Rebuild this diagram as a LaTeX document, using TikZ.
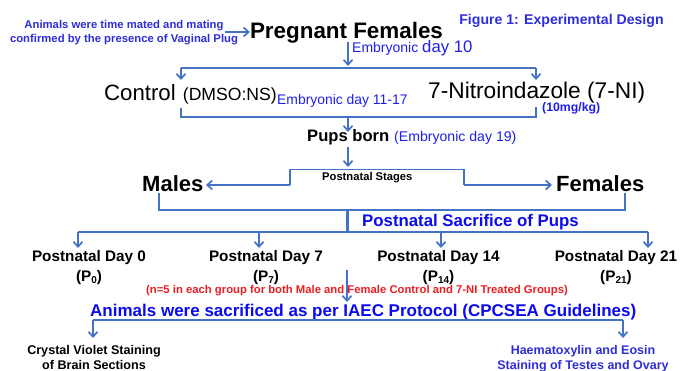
\documentclass[tikz,border=0pt]{standalone}
\usepackage{fontspec}
\setmainfont{Liberation Sans}
\usetikzlibrary{arrows.meta}
\definecolor{lineblue}{RGB}{68,114,196}
\definecolor{noteblue}{RGB}{45,45,220}
\definecolor{txtblue}{RGB}{30,30,235}
\definecolor{strongblue}{RGB}{10,10,240}
\definecolor{notered}{RGB}{235,30,35}
\newcommand\fsz[1]{\fontsize{#1}{#1}\selectfont}
\newcommand\psub[1]{\raisebox{-2.2pt}{\fsz{10}#1}}
\begin{document}
\begin{tikzpicture}[x=1pt,y=-1pt,
  conn/.style={draw=lineblue,line width=1.7pt},
  arr/.style={conn,-{Straight Barb[length=5pt,width=9pt]}},
  lbl/.style={inner sep=0pt,anchor=base},
  lblw/.style={inner sep=0pt,anchor=base west}]
\useasboundingbox (0,0) rectangle (691,371);

% ---- texts ----
\node[lbl,font=\bfseries\fsz{11.3},text=noteblue] (note1) at (124,28.3) {Animals were time mated and mating};
\node[lbl,font=\bfseries\fsz{11.3},text=noteblue] (note2) at (124,42.3) {confirmed by the presence of Vaginal Plug};
\node[lbl,font=\bfseries\fsz{22.4}] (preg) at (346.5,38.3) {Pregnant Females};
\node[lbl,font=\bfseries\fsz{14.1},text=noteblue] (title) at (561.5,25) {Figure 1: Experimental Design};
\node[lblw,text=txtblue] (e10) at (352,52.8) {\fsz{14}Embryonic {\fsz{16.7}day 10}};

\node[lblw,font=\fsz{22.2}] (ctrl) at (104,100.5) {Control};
\node[lblw,font=\fsz{17.6}] (dmso) at (182.7,100.5) {(DMSO:NS)};
\node[lblw,font=\fsz{13.9},text=txtblue] (e11) at (277,105) {Embryonic day 11-17};
\node[lblw,font=\fsz{22.7}] (ni) at (428,99) {7-Nitroindazole (7-NI)};
\node[lblw,font=\bfseries\fsz{12.3},text=txtblue] (dose) at (542,112) {(10mg/kg)};

\node[lblw,font=\bfseries\fsz{16.6}] (pups) at (307,141.7) {Pups born};
\node[lblw,font=\fsz{14.1},text=txtblue] (e19) at (394,141.7) {(Embryonic day 19)};

\node[lblw,font=\bfseries\fsz{11.2}] (stages) at (322,181) {Postnatal Stages};
\node[lblw,font=\bfseries\fsz{22}] (males) at (142,191.7) {Males};
\node[lblw,font=\bfseries\fsz{22}] (females) at (556,191.7) {Females};
\node[lblw,font=\bfseries\fsz{16.8},text=strongblue] (sacr) at (362,227) {Postnatal Sacrifice of Pups};

\node[lbl,font=\bfseries\fsz{15.3}] (d0) at (89,261.7) {Postnatal Day 0};
\node[lbl,font=\bfseries\fsz{15.3}] (d7) at (266,261.7) {Postnatal Day 7};
\node[lbl,font=\bfseries\fsz{15.3}] (d14) at (438.5,261.7) {Postnatal Day 14};
\node[lbl,font=\bfseries\fsz{15.3}] (d21) at (616,261.7) {Postnatal Day 21};
\node[lbl,font=\bfseries\fsz{15.3}] (p0) at (89,281.2) {(P\psub{0})};
\node[lbl,font=\bfseries\fsz{15.3}] (p7) at (266,281.2) {(P\psub{7})};
\node[lbl,font=\bfseries\fsz{15.3}] (p14) at (438.5,281.2) {(P\psub{14})};
\node[lbl,font=\bfseries\fsz{15.3}] (p21) at (616,281.2) {(P\psub{21})};

\node[lblw,font=\bfseries\fsz{11.3},text=notered] (nnote) at (146,294) {(n=5 in each group for both Male and Female Control and 7-NI Treated Groups)};
\node[lblw,font=\bfseries\fsz{17},text=strongblue] (iaec) at (90,316.7) {Animals were sacrificed as per IAEC Protocol (CPCSEA Guidelines)};

\node[lbl,font=\bfseries\fsz{12.6}] (cv1) at (94,355) {Crystal Violet Staining};
\node[lbl,font=\bfseries\fsz{12.6}] (cv2) at (94,369.3) {of Brain Sections};
\node[lbl,font=\bfseries\fsz{12.5},text=noteblue] (he1) at (583,355) {Haematoxylin and Eosin};
\node[lbl,font=\bfseries\fsz{12.5},text=noteblue] (he2) at (583,369.8) {Staining of Testes and Ovary};

% ---- junction coordinates ----
\coordinate (nA) at (225,32);
\coordinate (pregA) at (348,42);
\coordinate (s1) at (348,66);
\coordinate (h1L) at (181,68);
\coordinate (h1R) at (536,68);
\coordinate (ctrlT) at (181,80);
\coordinate (niT) at (536,80);
\coordinate (b1L) at (181,108);
\coordinate (b1R) at (536,107);
\coordinate (b1M) at (348,117);
\coordinate (pupsT) at (348,132);
\coordinate (pupsB) at (348,147);
\coordinate (boxT) at (348,167);
\coordinate (bxL) at (290,169.5);
\coordinate (bxR) at (464,169.5);
\coordinate (malesT) at (206,185);
\coordinate (femT) at (552,185);
\coordinate (mB) at (159,193);
\coordinate (fB) at (625,193);
\coordinate (jm) at (347,210);
\coordinate (jd) at (347,232);
\coordinate (d0T) at (78,248);
\coordinate (d7T) at (259,248);
\coordinate (d14T) at (441,248);
\coordinate (d21T) at (648,248);
\coordinate (nS) at (347,270);
\coordinate (nT) at (347,302);
\coordinate (iL) at (93,320);
\coordinate (iR) at (623,320);
\coordinate (cvT) at (93,338);
\coordinate (heT) at (623,338);

% ---- connectors ----
\draw[arr] (nA) -- (nA -| preg.west);
\draw[arr] (pregA) -- (s1);
\draw[conn] (h1L) -- (h1R);
\draw[arr] (h1L) -- (ctrlT);
\draw[arr] (h1R) -- (niT);
\draw[conn] (b1L) -- (b1L |- b1M) -- (b1M -| b1R) -- (b1R);
\draw[arr] (b1M) -- (pupsT);
\draw[arr] (pupsB) -- (boxT);
\draw[arr] (bxL |- malesT) -- (malesT);
\draw[conn] (bxL |- malesT) -- (bxL) -- (bxR) -- (bxR |- femT);
\draw[arr] (bxR |- femT) -- (femT);
\draw[conn] (mB) -- (mB |- jm) -- (jm -| fB) -- (fB);
\draw[draw=lineblue,line width=3pt] (jm) -- (jd);
\draw[conn] (d0T |- jd) -- (d21T |- jd);
\draw[arr] (d0T |- jd) -- (d0T);
\draw[arr] (d7T |- jd) -- (d7T);
\draw[arr] (d14T |- jd) -- (d14T);
\draw[arr] (d21T |- jd) -- (d21T);
\draw[arr] (nS) -- (nT);
\draw[conn] (iL) -- (iR);
\draw[arr] (iL) -- (cvT);
\draw[arr] (iR) -- (heT);
\end{tikzpicture}
\end{document}
